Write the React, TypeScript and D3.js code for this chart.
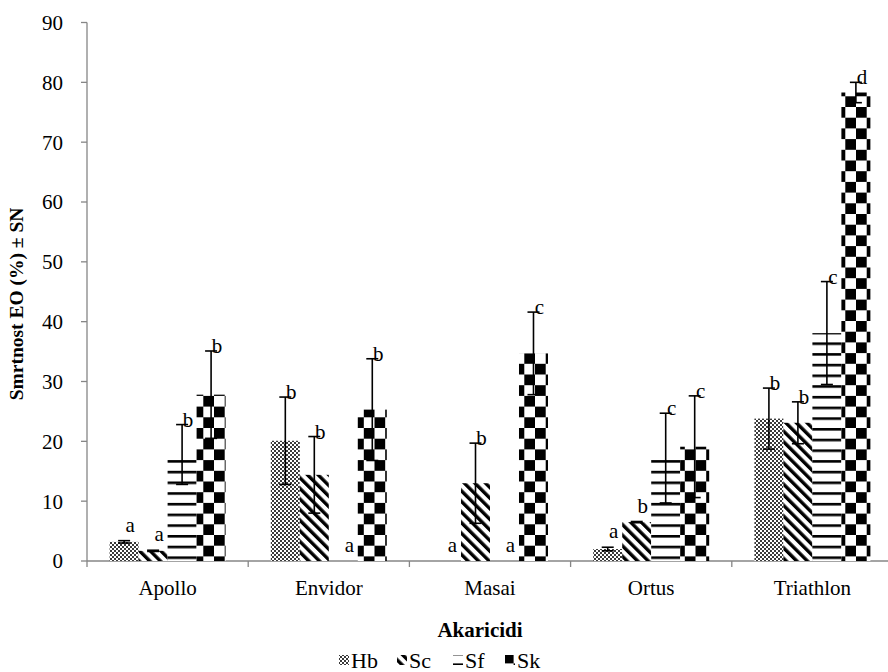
import { useEffect, useRef } from "react"
import * as d3 from "d3"

const categories = ["Apollo", "Envidor", "Masai", "Ortus", "Triathlon"]
const seriesNames = ["Hb", "Sc", "Sf", "Sk"]

const hbValues = [3.2, 20.1, 0, 2.0, 23.8]
const hbErrors = [0.2, 7.3, 0, 0.3, 5.1]
const hbLetters = ["a", "b", "a", "a", "b"]

const scValues = [1.7, 14.4, 13.0, 6.5, 23.1]
const scErrors = [0.1, 6.4, 6.7, 0.1, 3.5]
const scLetters = ["a", "b", "b", "b", "b"]

const sfValues = [17.8, 0, 0, 17.2, 38.1]
const sfErrors = [5.0, 0, 0, 7.5, 8.6]
const sfLetters = ["b", "a", "a", "c", "c"]

const skValues = [27.8, 25.3, 34.7, 19.1, 78.3]
const skErrors = [7.3, 8.5, 6.9, 8.5, 1.7]
const skLetters = ["b", "b", "c", "c", "d"]

const yTicks = [0, 10, 20, 30, 40, 50, 60, 70, 80, 90]

const seriesValues = [hbValues, scValues, sfValues, skValues]
const seriesErrors = [hbErrors, scErrors, sfErrors, skErrors]
const seriesLetters = [hbLetters, scLetters, sfLetters, skLetters]
const patternIds = ["pat-hb", "pat-sc", "pat-sf", "pat-sk"]

const FONT = "'Liberation Serif', 'Times New Roman', serif"

export default function App() {
  const svgRef = useRef<SVGSVGElement>(null)

  useEffect(() => {
    if (!svgRef.current) return
    const svg = d3.select(svgRef.current)
    svg.selectAll("*").remove()

    const width = 888
    const height = 672
    const margin = { top: 22.5, right: -5, bottom: 111, left: 87 }

    svg.attr("width", width).attr("height", height)

    // patterns
    const defs = svg.append("defs")
    const hb = defs.append("pattern").attr("id", "pat-hb").attr("patternUnits", "userSpaceOnUse").attr("width", 4).attr("height", 4)
    hb.append("rect").attr("width", 4).attr("height", 4).attr("fill", "#fff")
    hb.append("rect").attr("width", 2).attr("height", 2).attr("fill", "#3a3a3a")
    hb.append("rect").attr("x", 2).attr("y", 2).attr("width", 2).attr("height", 2).attr("fill", "#3a3a3a")

    const sc = defs.append("pattern").attr("id", "pat-sc").attr("patternUnits", "userSpaceOnUse")
      .attr("width", 7.5).attr("height", 7.5).attr("patternTransform", "rotate(-45)")
    sc.append("rect").attr("width", 7.5).attr("height", 7.5).attr("fill", "#fff")
    sc.append("rect").attr("width", 3.4).attr("height", 7.5).attr("fill", "#000")

    const sf = defs.append("pattern").attr("id", "pat-sf").attr("patternUnits", "userSpaceOnUse").attr("width", 10).attr("height", 10.7)
    sf.append("rect").attr("width", 10).attr("height", 10.7).attr("fill", "#fff")
    sf.append("rect").attr("y", 0).attr("width", 10).attr("height", 2.6).attr("fill", "#000")

    const sk = defs.append("pattern").attr("id", "pat-sk").attr("patternUnits", "userSpaceOnUse").attr("width", 21.4).attr("height", 21.4)
    sk.append("rect").attr("width", 21.4).attr("height", 21.4).attr("fill", "#fff")
    sk.append("rect").attr("width", 10.7).attr("height", 10.7).attr("fill", "#000")
    sk.append("rect").attr("x", 10.7).attr("y", 10.7).attr("width", 10.7).attr("height", 10.7).attr("fill", "#000")

    const x0 = d3.scaleBand().domain(categories).range([margin.left, width - margin.right]).paddingInner(0).paddingOuter(0)
    const x1 = d3.scaleBand().domain(seriesNames).range([0, x0.bandwidth()]).paddingInner(0).paddingOuter(0.78)
    const y = d3.scaleLinear().domain([0, 90]).range([height - margin.bottom, margin.top])

    const axisColor = "#868686"

    // y axis
    const gy = svg.append("g")
    gy.append("line").attr("x1", margin.left).attr("x2", margin.left).attr("y1", y(90)).attr("y2", y(0))
      .attr("stroke", axisColor).attr("stroke-width", 1.3)
    yTicks.forEach((t) => {
      gy.append("line").attr("x1", margin.left - 6).attr("x2", margin.left).attr("y1", y(t)).attr("y2", y(t))
        .attr("stroke", axisColor).attr("stroke-width", 1.3)
      gy.append("text").text(t).attr("x", 63).attr("y", y(t)).attr("dy", "0.35em")
        .attr("text-anchor", "end").style("font-family", FONT).style("font-size", "21px").attr("fill", "#000")
    })

    // x axis
    const gx = svg.append("g")
    gx.append("line").attr("x1", margin.left).attr("x2", width - margin.right).attr("y1", y(0)).attr("y2", y(0))
      .attr("stroke", axisColor).attr("stroke-width", 1.3)
    categories.forEach((c, i) => {
      const bx = (x0(c) as number) + x0.bandwidth()
      gx.append("line").attr("x1", bx).attr("x2", bx).attr("y1", y(0)).attr("y2", y(0) + 6)
        .attr("stroke", axisColor).attr("stroke-width", 1.3)
      if (i === 0) {
        gx.append("line").attr("x1", x0(c) as number).attr("x2", x0(c) as number).attr("y1", y(0)).attr("y2", y(0) + 6)
          .attr("stroke", axisColor).attr("stroke-width", 1.3)
      }
      gx.append("text").text(c).attr("x", (x0(c) as number) + x0.bandwidth() / 2).attr("y", y(0) + 34)
        .attr("text-anchor", "middle").style("font-family", FONT).style("font-size", "21px").attr("fill", "#000")
    })

    // bars
    const bars = svg.append("g")
    seriesNames.forEach((s, si) => {
      categories.forEach((c, ci) => {
        const v = seriesValues[si][ci]
        const bx = (x0(c) as number) + (x1(s) as number)
        if (v > 0) {
          bars.append("rect").attr("x", bx).attr("y", y(v)).attr("width", x1.bandwidth()).attr("height", y(0) - y(v))
            .attr("fill", `url(#${patternIds[si]})`)
        }
      })
    })

    // error bars and letters
    const errs = svg.append("g")
    seriesNames.forEach((s, si) => {
      categories.forEach((c, ci) => {
        const v = seriesValues[si][ci]
        const e = seriesErrors[si][ci]
        const cx = (x0(c) as number) + (x1(s) as number) + x1.bandwidth() / 2
        if (v > 0) {
          errs.append("line").attr("x1", cx).attr("x2", cx).attr("y1", y(v + e)).attr("y2", y(Math.max(0, v - e)))
            .attr("stroke", "#000").attr("stroke-width", 1.6)
          ;[v + e, v - e].forEach((ev) => {
            errs.append("line").attr("x1", cx - 6).attr("x2", cx + 6).attr("y1", y(ev)).attr("y2", y(ev))
              .attr("stroke", "#000").attr("stroke-width", 1.6)
          })
        }
        const top = y(v + e)
        const ly = e > 1 ? top + 2 : top - 9
        errs.append("text").text(seriesLetters[si][ci]).attr("x", cx + 6).attr("y", ly)
          .attr("text-anchor", "middle").style("font-family", FONT).style("font-size", "21px").attr("fill", "#000")
      })
    })

    // axis titles
    svg.append("text").text("Akaricidi").attr("x", (margin.left + 873) / 2).attr("y", 637)
      .attr("text-anchor", "middle").style("font-family", FONT).style("font-size", "21px").style("font-weight", "bold")
    svg.append("text").text("Smrtnost EO (%) ± SN")
      .attr("transform", `translate(23, 304) rotate(-90)`)
      .attr("text-anchor", "middle").style("font-family", FONT).style("font-size", "19.5px").style("font-weight", "bold")

    // legend
    const legend = svg.append("g")
    const itemW = [58, 56, 52, 52]
    const totalW = itemW.reduce((a, b) => a + b, 0)
    let lx = 448 - totalW / 2
    seriesNames.forEach((s, si) => {
      legend.append("rect").attr("x", lx).attr("y", 655).attr("width", 10).attr("height", 10).attr("fill", `url(#${patternIds[si]})`)
      legend.append("text").text(s).attr("x", lx + 12).attr("y", 668)
        .style("font-family", FONT).style("font-size", "22px")
      lx += itemW[si]
    })
  }, [])

  return (
    <div style={{ position: "absolute", left: 0, top: 0 }}>
      <svg ref={svgRef} />
    </div>
  )
}
